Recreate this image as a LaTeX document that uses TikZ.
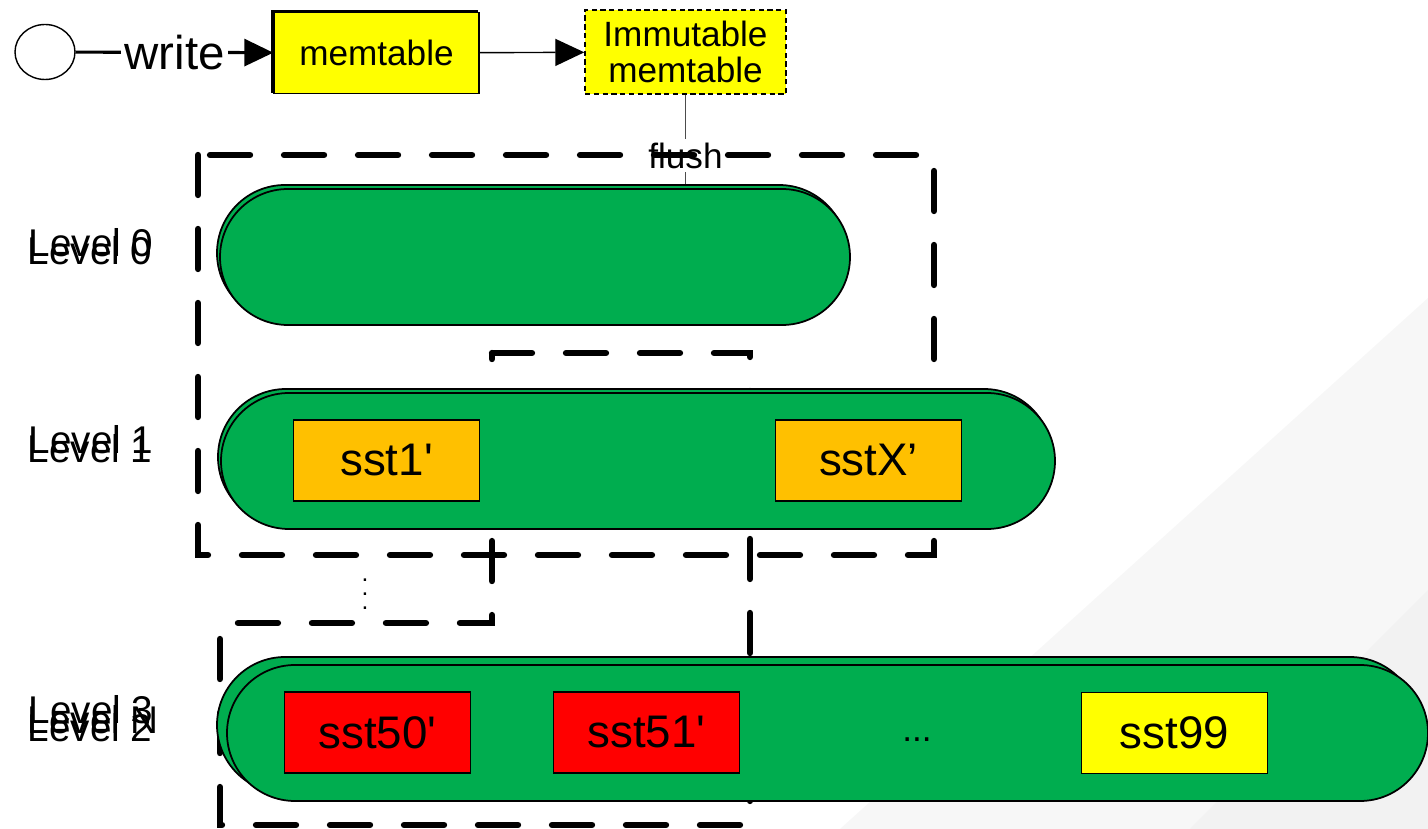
\documentclass[tikz,border=0pt]{standalone}
\usepackage{fontspec}
\setmainfont{Liberation Sans}
\usetikzlibrary{positioning}
\usetikzlibrary{shapes}
\usetikzlibrary{arrows.meta}
\usetikzlibrary{backgrounds}

\definecolor{levelgreen}{HTML}{00AD4F}
\definecolor{sstorange}{HTML}{FFC000}
\definecolor{sstred}{HTML}{FF0000}
\definecolor{sstyellow}{HTML}{FFFF00}
\definecolor{slidegray}{HTML}{F7F7F7}
\definecolor{slidegraydark}{HTML}{F2F2F2}

\begin{document}
\begin{tikzpicture}[]

\useasboundingbox (0,0) rectangle (14.28,-8.29);

\def\SstWidth{1.86cm}
\def\SstHeight{0.81cm}
\def\LevelHeight{1.36cm}

% Styles
\tikzstyle{level} =
	[draw, fill=levelgreen, minimum height=\LevelHeight, rounded corners=0.68cm, line width=0.5pt]

\tikzstyle{level back} =
	[level, xshift=-0.03cm, yshift=0.04cm]

\tikzstyle{sst} =
	[draw, line width=0.4pt, minimum width=\SstWidth, minimum height=\SstHeight,
	 font=\fontsize{13}{15}\selectfont]

\tikzstyle{table} =
	[draw, fill=sstyellow, minimum width=2.05cm, minimum height=0.81cm,
	 font=\fontsize{10}{10}\selectfont, align=center]

\tikzstyle{level name} =
	[anchor=west, inner sep=0pt, font=\fontsize{11}{13}\selectfont]

\tikzstyle{compaction} =
	[line width=1.8pt, dash pattern=on 0.4cm off 0.34cm, line cap=round]

\tikzstyle{big tip} =
	[-{Triangle[length=0.29cm, width=0.27cm]}]

% Write path

\node (Client) at (0.45,-0.52)
	[draw, ellipse, minimum width=0.60cm, minimum height=0.55cm, inner sep=0pt] {};
\node (MemtableBack) at (3.745,-0.515) [table] {};
\node (Memtable) at (3.765,-0.53) [table] {memtable};
\node (Immutable) at (6.855,-0.52)
	[table, dash pattern=on 1.5pt off 1pt, minimum width=2.01cm, minimum height=0.80cm]
	{Immutable\\memtable};

\path[line width=0.9pt, big tip]
	(Client) edge node[fill=white, inner sep=1pt, font=\fontsize{13.5}{15}\selectfont] {write} (Memtable);
\path[line width=0.4pt, big tip]
	(Memtable) edge (Immutable);

% Levels

\node (Level0Back) at (5.35,-2.57) [level back, minimum width=6.30cm] {};
\node (Level0) at (5.35,-2.57) [level, minimum width=6.30cm] {};

\node (Level1Back) at (6.38,-4.61) [level back, minimum width=8.34cm] {};
\node (Level1) at (6.38,-4.61) [level, minimum width=8.34cm] {};

\node (Level2Back) at (8.275,-7.33)
	[level back, xshift=-0.07cm, yshift=0.04cm, minimum width=12.01cm] {};
\node (Level2) at (8.275,-7.33) [level, minimum width=12.01cm] {};

% Tables

\node (Sst1) at (3.865,-4.605) [sst, fill=sstorange] {sst1\textquotesingle};
\node (SstX) at (8.685,-4.605) [sst, fill=sstorange] {sstX’};

\node (Sst50) at (3.775,-7.325) [sst, fill=sstred] {sst50\textquotesingle};
\node (Sst51) at (6.465,-7.325) [sst, fill=sstred] {sst51\textquotesingle};
\node (More) at (9.17,-7.40) [font=\fontsize{10}{12}\selectfont] {...};
\node (Sst99) at (11.745,-7.33) [sst, fill=sstyellow] {sst99};

\node (Skipped) at (3.65,-5.84) [font=\scriptsize] {$\vdots$};

% Level names

\node (Level0NameA) at (0.28,-2.43) [level name] {Level 0};
\node (Level0NameB) at (0.27,-2.51) [level name] {Level 0};
\node (Level1NameA) at (0.28,-4.40) [level name] {Level 1};
\node (Level1NameB) at (0.27,-4.49) [level name] {Level 1};
\node (Level3Name) at (0.28,-7.10) [level name] {Level 3};
\node (LevelNName) at (0.27,-7.20) [level name] {Level N};
\node (Level2Name) at (0.27,-7.28) [level name] {Level 2};

% Flush and compaction ranges

\begin{scope}[on background layer]
\fill[slidegray] (14.28,-2.98) -- (8.40,-8.29) -- (14.28,-8.29) -- cycle;
\fill[slidegraydark] (14.28,-5.90) -- (11.90,-8.29) -- (14.28,-8.29) -- cycle;

\path[line width=0.4pt, black!70]
	(Immutable.south) edge
	node[pos=0.65, fill=white, inner sep=1pt, text=black, font=\fontsize{10}{12}\selectfont] {flush}
	(Immutable.south |- Level0.north);

\draw[compaction] (1.98,-1.55) rectangle (9.34,-5.55);
\draw[compaction] (4.92,-3.53) -- (7.50,-3.53) -- (7.50,-8.25) -- (2.20,-8.25)
	-- (2.20,-6.23) -- (4.92,-6.23) -- cycle;
\end{scope}

\end{tikzpicture}
\end{document}
